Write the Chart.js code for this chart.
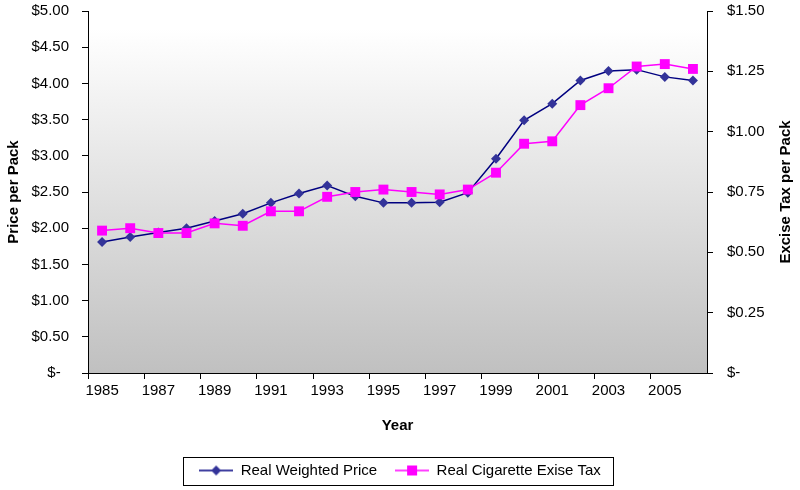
<!DOCTYPE html>
<html>
<head>
<meta charset="utf-8">
<script src="https://cdn.jsdelivr.net/npm/chart.js@4"></script>
<style>
    html, body { margin: 0; padding: 0; background: #ffffff; }
    #wrap { width: 800px; height: 490px; }
</style>
</head>
<body>
<div id="wrap"><canvas id="taxChart" width="800" height="490"></canvas></div>
<script>
// Data
const years = ['1985', '1986', '1987', '1988', '1989', '1990', '1991', '1992', '1993', '1994', '1995',
    '1996', '1997', '1998', '1999', '2000', '2001', '2002', '2003', '2004', '2005', '2006'];
const priceValues = [1.81, 1.88, 1.94, 2.00, 2.10, 2.20, 2.35, 2.48, 2.59, 2.44, 2.35,
    2.35, 2.36, 2.49, 2.96, 3.49, 3.72, 4.04, 4.17, 4.19, 4.09, 4.04];
const taxValues = [0.59, 0.60, 0.58, 0.58, 0.62, 0.61, 0.67, 0.67, 0.73, 0.75, 0.76,
    0.75, 0.74, 0.76, 0.83, 0.95, 0.96, 1.11, 1.18, 1.27, 1.28, 1.26];

const FONT = "'Liberation Sans', Arial, sans-serif";
const priceColor = '#000080';
const priceMarker = '#333399';
const taxColor = '#ff00ff';

// little line+marker icons for the legend
function legendIcon(style, color, fill) {
    const c = document.createElement('canvas');
    c.width = 34;
    c.height = 12;
    const g = c.getContext('2d');
    g.strokeStyle = color;
    g.lineWidth = 1.5;
    g.beginPath();
    g.moveTo(0, 6);
    g.lineTo(34, 6);
    g.stroke();
    g.fillStyle = fill;
    if (style === 'diamond') {
        g.beginPath();
        g.moveTo(17, 1);
        g.lineTo(22, 6);
        g.lineTo(17, 11);
        g.lineTo(12, 6);
        g.closePath();
        g.fill();
    } else {
        g.fillRect(12, 1, 10, 10);
    }
    return c;
}

function money(v) {
    return v === 0 ? '$-  ' : '$' + v.toFixed(2);
}

// fixed axis widths, and keep the tick padding from pushing the plot down
function fitY(width) {
    return s => {
        s.width = width;
        s.paddingTop = 11;
        s.paddingBottom = 0;
    };
}

const plotBackground = {
    id: 'plotBackground',
    beforeDraw(chart) {
        const { ctx, chartArea } = chart;
        const grad = ctx.createLinearGradient(0, chartArea.top, 0, chartArea.bottom);
        grad.addColorStop(0, '#ffffff');
        grad.addColorStop(0.05, '#ffffff');
        grad.addColorStop(1, '#c0c0c0');
        ctx.save();
        ctx.fillStyle = grad;
        ctx.fillRect(chartArea.left, chartArea.top, chartArea.right - chartArea.left, chartArea.bottom - chartArea.top);
        ctx.restore();
    }
};

// right axis title reads bottom-to-top, and a frame round the legend
const extras = {
    id: 'extras',
    afterDraw(chart) {
        const { ctx, chartArea } = chart;
        const y1 = chart.scales.y1;
        ctx.save();
        ctx.translate(y1.right - 14, (chartArea.top + chartArea.bottom) / 2);
        ctx.rotate(-Math.PI / 2);
        ctx.font = 'bold 15px ' + FONT;
        ctx.fillStyle = '#000';
        ctx.textAlign = 'center';
        ctx.textBaseline = 'middle';
        ctx.fillText('Excise Tax per Pack', 0, 0);
        ctx.restore();

        const hb = chart.legend.legendHitBoxes;
        if (hb && hb.length) {
            const left = hb[0].left - 16;
            const right = hb[hb.length - 1].left + hb[hb.length - 1].width + 12;
            const mid = hb[0].top + hb[0].height / 2;
            ctx.save();
            ctx.strokeStyle = '#000';
            ctx.lineWidth = 1;
            ctx.strokeRect(Math.round(left) + 0.5, Math.round(mid - 14) + 0.5, Math.round(right - left), 28);
            ctx.restore();
        }
    }
};

new Chart(document.getElementById('taxChart'), {
    type: 'line',
    data: {
        labels: years,
        datasets: [{
            label: 'Real Weighted Price',
            data: priceValues,
            yAxisID: 'y',
            borderColor: priceColor,
            borderWidth: 1.5,
            pointStyle: 'rectRot',
            pointRadius: 5,
            pointBackgroundColor: priceMarker,
            pointBorderColor: priceMarker,
            pointBorderWidth: 0,
            tension: 0,
            order: 1
        }, {
            label: 'Real Cigarette Exise Tax',
            data: taxValues,
            yAxisID: 'y1',
            borderColor: taxColor,
            borderWidth: 1.5,
            pointStyle: 'rect',
            pointRadius: 7,
            pointBackgroundColor: taxColor,
            pointBorderColor: taxColor,
            pointBorderWidth: 0,
            tension: 0,
            order: 0
        }]
    },
    options: {
        responsive: false,
        animation: false,
        layout: {
            padding: { top: 0, left: 0, right: 0, bottom: 2 }
        },
        plugins: {
            tooltip: { enabled: false },
            legend: {
                position: 'bottom',
                labels: {
                    usePointStyle: true,
                    pointStyleWidth: 34,
                    padding: 18,
                    color: '#000',
                    font: { family: FONT, size: 15 },
                    sort: (a, b) => a.datasetIndex - b.datasetIndex,
                    generateLabels(chart) {
                        return chart.data.datasets.map((ds, i) => ({
                            text: ds.label,
                            datasetIndex: i,
                            pointStyle: i === 0 ? legendIcon('diamond', priceColor, priceMarker) : legendIcon('square', taxColor, taxColor),
                            fillStyle: 'transparent',
                            strokeStyle: 'transparent',
                            lineWidth: 0,
                            fontColor: '#000'
                        }));
                    }
                }
            }
        },
        scales: {
            x: {
                offset: true,
                grid: {
                    offset: true,
                    drawOnChartArea: false,
                    drawTicks: true,
                    tickLength: 6,
                    tickColor: ctx => (ctx.index % 2 === 0 ? '#000' : 'rgba(0,0,0,0)')
                },
                border: { color: '#000', width: 1 },
                ticks: {
                    autoSkip: false,
                    maxRotation: 0,
                    padding: 3,
                    color: '#000',
                    font: { family: FONT, size: 15 },
                    callback: function (v, i) { return i % 2 === 0 ? this.getLabelForValue(v) : ''; }
                },
                title: {
                    display: true,
                    text: 'Year',
                    color: '#000',
                    font: { family: FONT, size: 15, weight: 'bold' },
                    padding: { top: 14, bottom: 10 }
                }
            },
            y: {
                position: 'left',
                min: 0,
                max: 5,
                afterFit: fitY(88),
                grid: {
                    drawOnChartArea: false,
                    tickLength: 6,
                    tickColor: '#000'
                },
                border: { color: '#000', width: 1 },
                ticks: {
                    stepSize: 0.5,
                    padding: 13,
                    color: '#000',
                    font: { family: FONT, size: 15 },
                    callback: v => money(v)
                },
                title: {
                    display: true,
                    text: 'Price per Pack',
                    color: '#000',
                    font: { family: FONT, size: 15, weight: 'bold' },
                    padding: { top: 5, bottom: 0 }
                }
            },
            y1: {
                position: 'right',
                min: 0,
                max: 1.5,
                afterFit: fitY(93),
                grid: {
                    drawOnChartArea: false,
                    tickLength: 6,
                    tickColor: '#000'
                },
                border: { color: '#000', width: 1 },
                ticks: {
                    stepSize: 0.25,
                    padding: 14,
                    color: '#000',
                    font: { family: FONT, size: 15 },
                    callback: v => money(v)
                }
            }
        }
    },
    plugins: [plotBackground, extras]
});
</script>
</body>
</html>
